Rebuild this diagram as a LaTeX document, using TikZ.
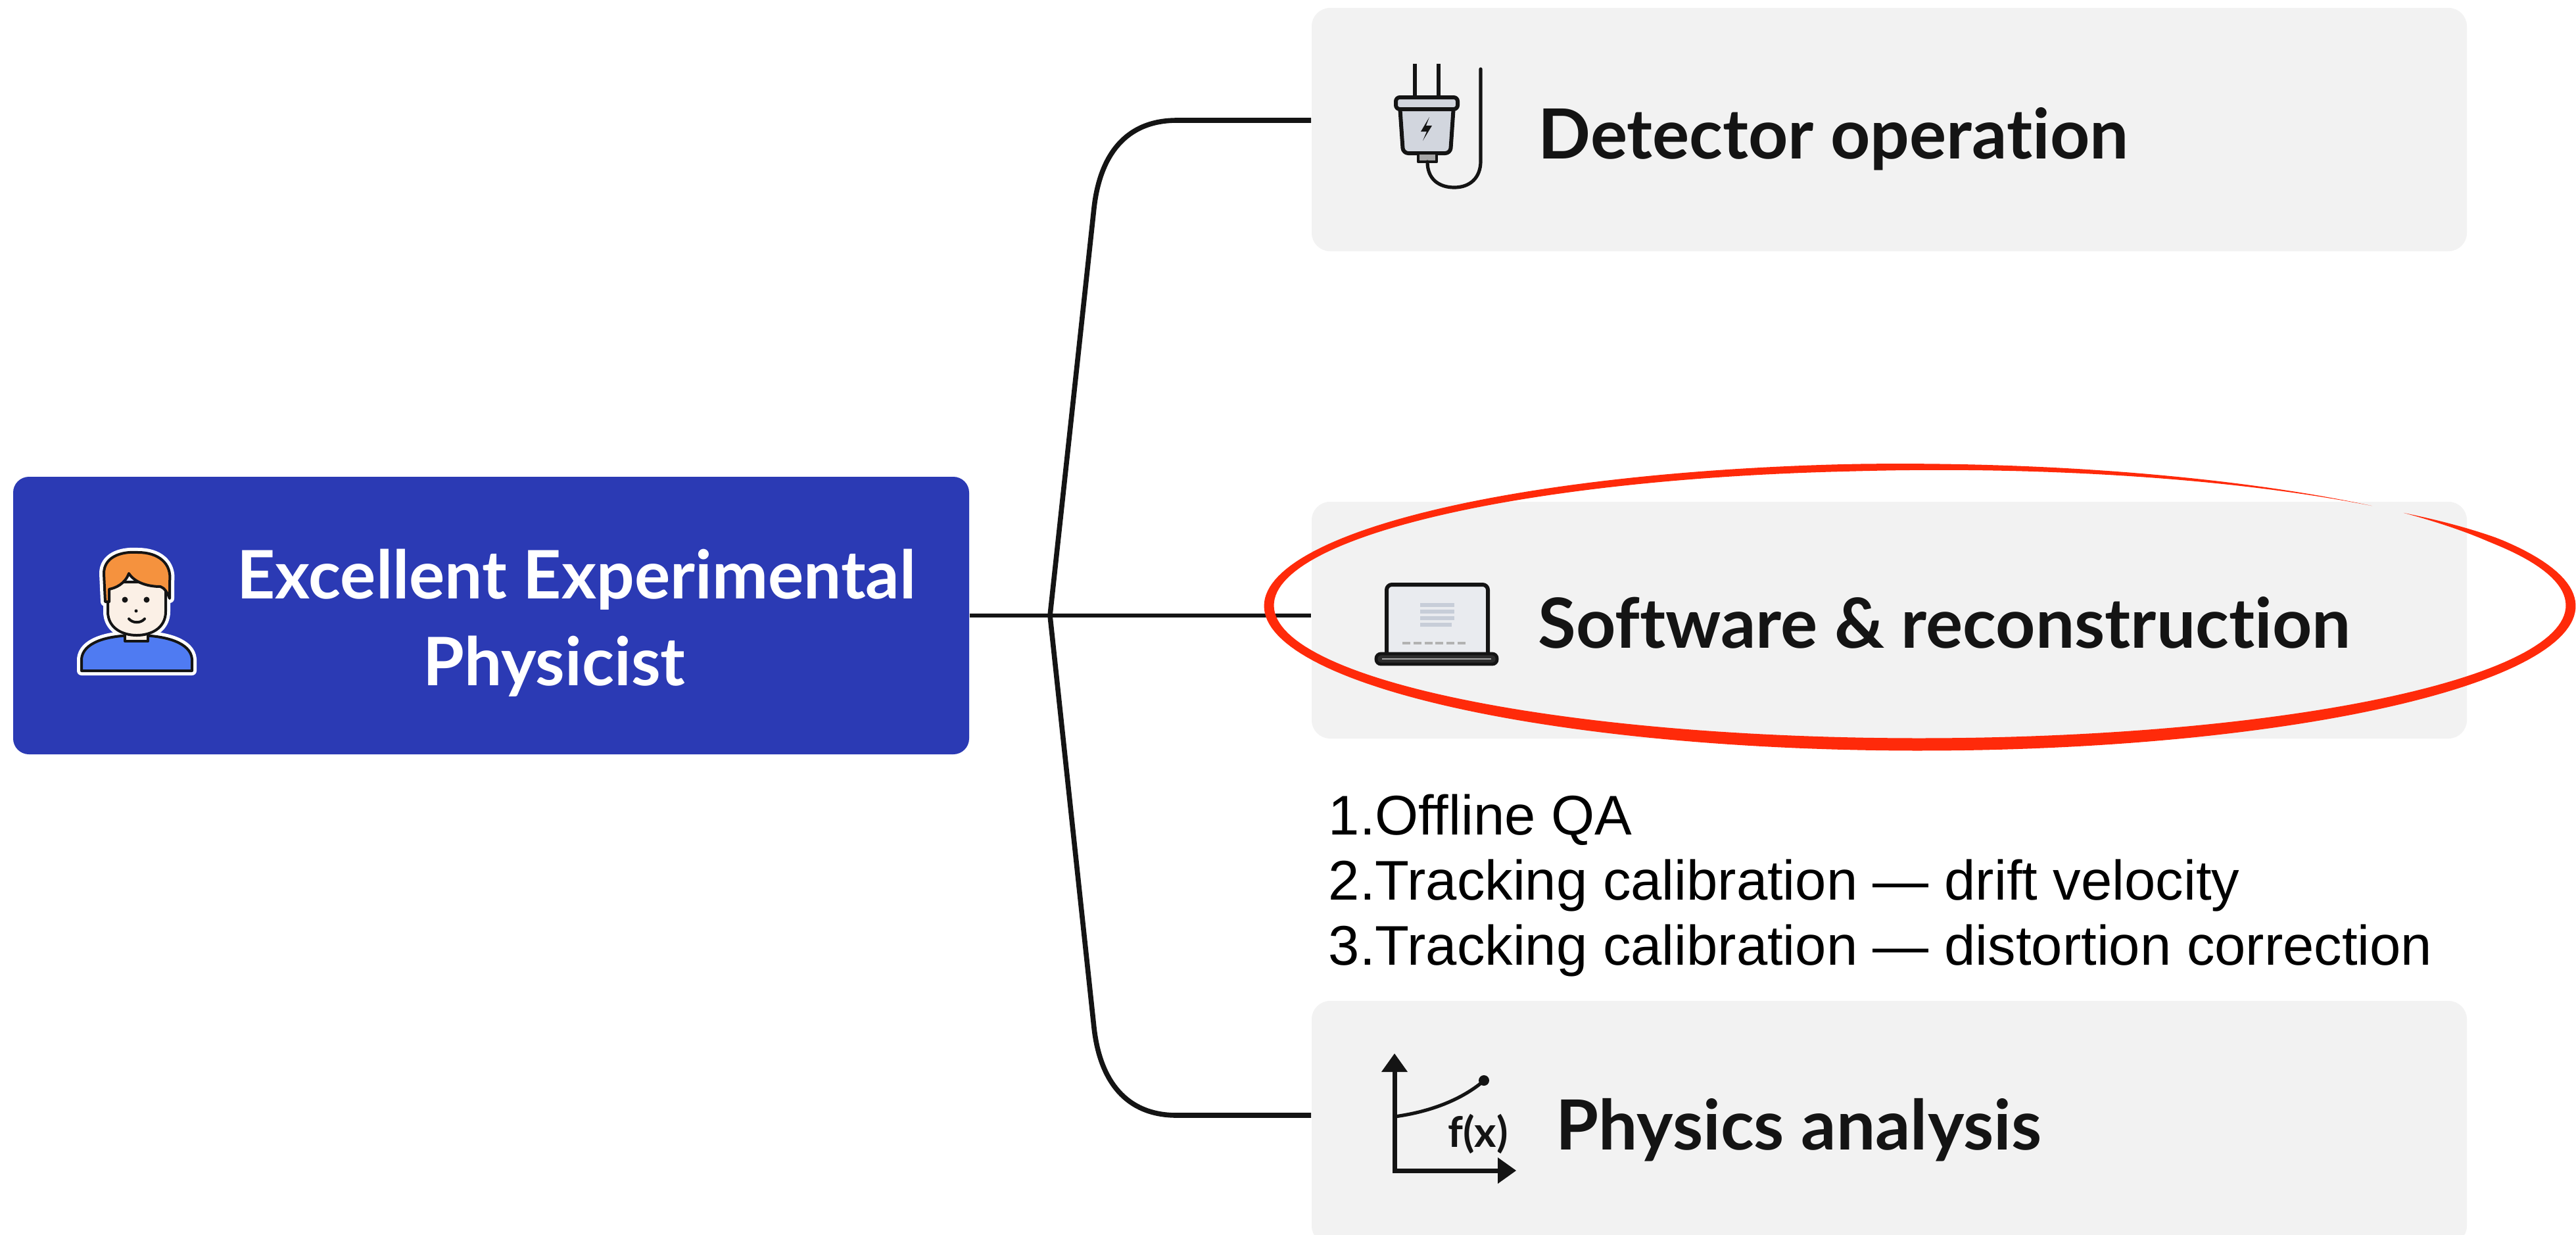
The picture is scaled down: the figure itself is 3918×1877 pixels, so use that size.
\documentclass[tikz,border=0pt]{standalone}
\usepackage{fontspec}
\setmainfont{Lato}[Ligatures={NoCommon}]
\newfontfamily\listfont{Liberation Sans}
\usetikzlibrary{calc}
\definecolor{bluebox}{HTML}{2B3AB4}
\definecolor{card}{HTML}{F2F2F2}
\definecolor{ink}{HTML}{141414}
\definecolor{pen}{HTML}{FF2A0A}
\definecolor{hair}{HTML}{F5923E}
\definecolor{skin}{HTML}{FBF0E6}
\definecolor{shirt}{HTML}{4F7BF2}
\definecolor{plugfill}{HTML}{D2D6DE}
\definecolor{screen}{HTML}{E9EBEF}
\definecolor{screenline}{HTML}{C7CDD8}

\begin{document}
\begin{tikzpicture}[x=0.25pt,y=-0.25pt,
  cardbox/.style={fill=card, rounded corners=7pt, minimum width=439.25pt, inner sep=0pt},
  title/.style={font=\fontsize{26.3}{32}\selectfont\bfseries, text=ink, anchor=base west, inner sep=0pt},
  headline/.style={font=\fontsize{25.4}{32}\selectfont\bfseries, text=white, anchor=base, inner sep=0pt},
  link/.style={draw=ink, line width=1.9pt, line join=round},
  iconline/.style={draw=ink, line width=1pt, line join=round, line cap=round},
  halo/.style={draw=white, line width=3.5pt, line join=round},
  declare function={wd(\a)=(15+4*sin(\a))*min(1,(\a+42)/14)*min(1,(314-\a)/50);}
]
\useasboundingbox[fill=white] (0,0) rectangle (3918,1877);

% ---- boxes
\node[fill=bluebox, rounded corners=6pt, minimum width=363.5pt, minimum height=105.5pt, inner sep=0pt] (phys) at (747,936) {};
\node[cardbox, minimum height=92.5pt] (det) at (2873.5,197) {};
\node[cardbox, minimum height=90pt] (soft) at (2873.5,943) {};
\node[cardbox, minimum height=92.5pt] (ana) at (2873.5,1707) {};

% ---- connectors
\coordinate (j) at (1597,936);
\draw[link, line width=1.5pt] (phys.east) -- (phys.east -| soft.west);
\draw[link] (j) -- (1664,316) .. controls (1673,236) and (1712,183) .. (1790,183) -- ([yshift=3.5pt]det.west);
\draw[link] (j) -- (1664,1563) .. controls (1673,1643) and (1712,1696) .. (1790,1696) -- ([yshift=2.75pt]ana.west);

% ---- central label
\node[headline] (physA) at (877,910) {Excellent Experimental};
\node[headline] (physB) at (843,1042) {Physicist};

% ---- person icon
\def\bodyshape{(124,1020) -- (124,1002) .. controls (126,978) and (160,966) .. (207,966) .. controls (254,966) and (290,978) .. (292,1002) -- (292,1020) -- cycle}
\def\neckshape{(190,945) rectangle (225,975)}
\def\faceshape{(164,885) -- (164,930) .. controls (164,955) and (186,966) .. (208,966) .. controls (230,966) and (252,955) .. (252,930) -- (252,885) -- cycle}
\def\hairshape{(160,915) -- (158,872) .. controls (158,848) and (182,838) .. (210,840) .. controls (240,840) and (262,856) .. (258,885) -- (258,910) .. controls (254,900) and (250,894) .. (244,892) .. controls (225,892) and (205,886) .. (196,872) .. controls (190,888) and (176,894) .. (166,896) -- (166,915) -- cycle}
\draw[halo] \bodyshape;
\draw[halo] \neckshape;
\draw[halo] \faceshape;
\draw[halo] \hairshape;
\filldraw[iconline, fill=shirt] \bodyshape;
\filldraw[iconline, fill=skin] \neckshape;
\filldraw[iconline, fill=skin] \faceshape;
\filldraw[iconline, fill=hair] \hairshape;
\fill[ink] (190,912) circle[radius=4.5] (223,912) circle[radius=4.5] (207,929) circle[radius=2.5];
\draw[iconline] (196,941) .. controls (202,948) and (214,948) .. (220,941);

% ---- plug icon
\draw[iconline, line width=1.5pt, line cap=butt] (2152,97) -- (2152,150) (2188,97) -- (2188,150);
\filldraw[iconline, fill=plugfill, rounded corners=2pt, line width=1.5pt] (2129,160) -- (2134,233) -- (2206,233) -- (2211,160) -- cycle;
\filldraw[iconline, fill=plugfill, rounded corners=1.5pt, line width=1.5pt] (2123,148) rectangle (2217,166);
\fill[ink] (2174,178) -- (2161,200) -- (2170,200) -- (2164,214) -- (2178,191) -- (2169,191) -- cycle;
\filldraw[iconline, fill=gray!70, line width=1.2pt] (2157,233) rectangle (2185,246);
\draw[iconline, line width=1.3pt] (2171,246) .. controls (2171,272) and (2188,285) .. (2212,285) .. controls (2236,285) and (2252,270) .. (2252,245) -- (2252,105);

% ---- laptop icon
\filldraw[iconline, fill=screen, line width=1.5pt, rounded corners=2pt] (2109,993) -- (2109,889) -- (2263,889) -- (2263,993);
\draw[screenline, line width=1.3pt] (2160,920) -- (2212,920) (2160,930) -- (2212,930) (2160,940) -- (2212,940) (2160,950) -- (2208,950);
\draw[gray!60, line width=1pt, dash pattern=on 3pt off 1.2pt] (2133,978) -- (2231,978);
\filldraw[iconline, fill=ink!90, rounded corners=1.8pt, line width=1.2pt] (2093,994) rectangle (2277,1010);
\draw[gray!70, line width=0.6pt] (2102,1002) -- (2268,1002);

% ---- function-plot icon
\draw[ink, line width=1.75pt] (2121,1625) -- (2121,1780) -- (2284,1780);
\fill[ink] (2121,1602) -- (2101,1630) -- (2141,1630) -- cycle;
\fill[ink] (2306,1780) -- (2278,1760) -- (2278,1800) -- cycle;
\draw[ink, line width=1.3pt] (2121,1698) .. controls (2180,1690) and (2225,1670) .. (2255,1645);
\fill[ink] (2257,1643) circle[radius=8];
\node[font=\fontsize{16}{18}\selectfont\bfseries, text=ink, inner sep=0pt] (fx) at (2248,1724) {f(x)};

% ---- branch titles
\node[title] (detT) at (2339,241) {Detector operation};
\node[title] (softT) at (2339,985) {Software \& reconstruction};
\node[title] (anaT) at (2366,1748) {Physics analysis};

% ---- task list
\node[font=\listfont\fontsize{21.25}{24.75}\selectfont, anchor=north west, align=left, inner sep=0pt, text=black] (tasks) at (2020,1207)
  {1.Offline QA\\2.Tracking calibration — drift velocity\\3.Tracking calibration — distortion correction};

% ---- red hand-drawn ellipse around the software branch
\fill[pen] plot[domain=-42:314, samples=240, variable=\a]
    ({2920+(990+wd(\a)/2)*cos(\a)}, {921+(211+wd(\a)/2)*sin(\a)})
  -- plot[domain=314:-42, samples=240, variable=\a]
    ({2920+(990-wd(\a)/2)*cos(\a)}, {921+(211-wd(\a)/2)*sin(\a)}) -- cycle;
\end{tikzpicture}
\end{document}
